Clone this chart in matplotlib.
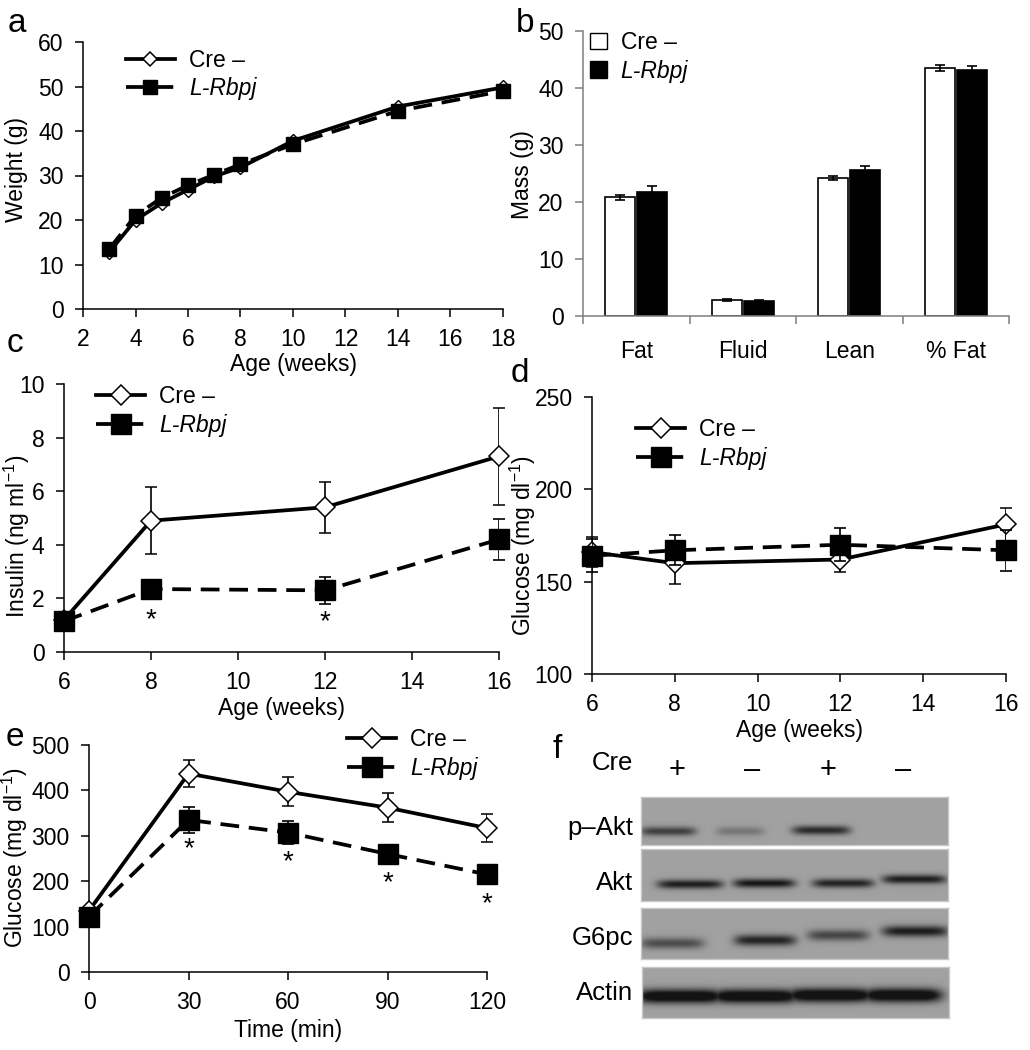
import numpy as np
import matplotlib
matplotlib.use("Agg")
import matplotlib.pyplot as plt
from matplotlib.lines import Line2D
from matplotlib.patches import Patch

plt.rcParams['font.family'] = ['Liberation Sans', 'DejaVu Sans']
plt.rcParams['mathtext.fontset'] = 'custom'
plt.rcParams['mathtext.rm'] = 'Liberation Sans'
plt.rcParams['mathtext.it'] = 'Liberation Sans:italic'

W, H = 1030, 1050

# ---- data ----
# a: body weight
weight_age = [3, 4, 5, 6, 7, 8, 10, 14, 18]
weight_cre = [12.8, 20.0, 23.8, 26.8, 29.8, 31.8, 37.8, 45.5, 49.8]
weight_rbpj = [13.5, 21.0, 25.0, 27.8, 30.2, 32.5, 37.0, 44.5, 49.0]

# b: body composition
mass_cats = ['Fat', 'Fluid', 'Lean', '% Fat']
mass_cre = [20.8, 2.8, 24.2, 43.5]
mass_cre_err = [0.5, 0.1, 0.3, 0.5]
mass_rbpj = [21.7, 2.7, 25.6, 43.2]
mass_rbpj_err = [1.1, 0.1, 0.8, 0.7]

# c: insulin
ins_age = [6, 8, 12, 16]
ins_cre = [1.2, 4.9, 5.4, 7.3]
ins_cre_err = [0.2, 1.25, 0.95, 1.8]
ins_rbpj = [1.15, 2.35, 2.3, 4.2]
ins_rbpj_err = [0.2, 0.3, 0.5, 0.75]
ins_sig = [8, 12]

# d: fasting glucose
glu_age = [6, 8, 12, 16]
glu_cre = [166, 160, 162, 181]
glu_cre_err = [8, 11, 7, 9]
glu_rbpj = [164, 167, 170, 167]
glu_rbpj_err = [9, 8, 9, 11]

# e: GTT
gtt_time = [0, 30, 60, 90, 120]
gtt_cre = [135, 437, 397, 362, 317]
gtt_cre_err = [5, 30, 32, 32, 30]
gtt_rbpj = [122, 335, 307, 260, 215]
gtt_rbpj_err = [5, 28, 25, 15, 10]
gtt_sig = [30, 60, 90, 120]

# f: western blot (relative band intensity per lane)
blot_lanes = ['+', '\u2013', '+', '\u2013']
blot_rows = ['p\u2013Akt', 'Akt', 'G6pc', 'Actin']
band_pakt = [0.7, 0.3, 0.85, 0.0]
band_akt = [0.95, 1.0, 0.9, 0.95]
band_g6pc = [0.6, 0.9, 0.65, 0.95]
band_actin = [1.3, 1.3, 1.3, 1.3]

FS_TICK = 16.5
FS_LAB = 16.5
LW = 2.7
DASH = (0, (5, 2.6))

# ---- helpers ----
fig = plt.figure(figsize=(W / 100, H / 100), dpi=100)


def px_axes(l, t, r, b):
    return fig.add_axes([l / W, 1 - b / H, (r - l) / W, (b - t) / H])


def style(ax, col='black'):
    for s in ['top', 'right']:
        ax.spines[s].set_visible(False)
    for s in ['left', 'bottom']:
        ax.spines[s].set_linewidth(1.1)
        ax.spines[s].set_color(col)
    ax.tick_params(direction='out', length=6, width=1.1, labelsize=FS_TICK, color=col)
    ax.tick_params(axis='x', pad=8)
    ax.tick_params(axis='y', pad=8)


def fig_label(x, y, s, rot=0, size=FS_LAB):
    fig.text(x / W, 1 - y / H, s, fontsize=size, ha='center', va='center', rotation=rot)


def legend_lines(ax, x, y, ms_d=10, ms_s=11):
    h1 = Line2D([], [], color='black', lw=LW, marker='D', ms=ms_d * 0.75,
                mfc='white', mec='black', mew=1.1)
    h2 = Line2D([], [], color='black', lw=LW, ls=DASH, marker='s',
                ms=ms_s, mfc='black', mec='black')
    lg = ax.legend([h1, h2], ['Cre \u2013', 'L-Rbpj'], loc='upper left',
                   bbox_to_anchor=(x, y), frameon=False, fontsize=16.5,
                   handlelength=2.15, handletextpad=0.6, labelspacing=0.25,
                   borderpad=0, borderaxespad=0)
    lg.get_texts()[1].set_fontstyle('italic')
    return lg


def two_series(ax, x, y1, e1, y2, e2, ms_d, ms_s):
    ax.errorbar(x, y1, yerr=e1, color='black', lw=LW, ecolor='black',
                elinewidth=1.2, capsize=4, capthick=1.2, marker='D',
                ms=ms_d * 0.75, mfc='white', mec='black', mew=1.1, zorder=3)
    ax.errorbar(x, y2, yerr=e2, color='black', lw=LW, ls=DASH,
                ecolor='black', elinewidth=1.2, capsize=4, capthick=1.2,
                marker='s', ms=ms_s, mfc='black', mec='black', zorder=4)
    for ln in ax.lines:
        ln.set_clip_on(False)


def stars(ax, xs, xvals, ys, drop):
    # glyph centre placed at value - drop
    for x in xs:
        k = list(xvals).index(x)
        ax.annotate('*', (x, ys[k] - drop), xytext=(0, -0.42 * 20),
                    textcoords='offset points', fontsize=20,
                    ha='center', va='baseline')


def letter(x, y, s):
    fig.text(x / W, 1 - y / H, s, fontsize=24, ha='center', va='center')


# ---- a ----
ax = px_axes(83, 42, 503, 309)
style(ax)
ax.plot(weight_age, weight_cre, color='black', lw=LW, marker='D', ms=7.5,
        mfc='white', mec='black', mew=1.0, zorder=3, clip_on=False)
ax.plot(weight_age, weight_rbpj, color='black', lw=LW, ls=DASH,
        marker='s', ms=10, mfc='black', mec='black', zorder=4, clip_on=False)
ax.set_xlim(2, 18)
ax.set_ylim(0, 60)
ax.set_xticks(range(2, 19, 2))
ax.set_yticks(range(0, 61, 10))
fig_label(293, 364, 'Age (weeks)')
fig_label(17, 170, 'Weight (g)', rot=90)
legend_lines(ax, 0.102, 0.975, ms_d=10, ms_s=10)
letter(17, 24, 'a')

# ---- b ----
ax = px_axes(583, 31, 1009, 316)
style(ax, col='#7f7f7f')
xi = np.arange(len(mass_cats))
ekw = dict(ecolor='black', elinewidth=1.2, capsize=3.5, capthick=1.2)
ax.bar(xi - 0.15, mass_cre, width=0.28, color='white', edgecolor='black',
       lw=1.2, yerr=mass_cre_err, error_kw=ekw)
ax.bar(xi + 0.15, mass_rbpj, width=0.28, color='black', edgecolor='black',
       lw=1.2, yerr=mass_rbpj_err, error_kw=ekw)
ax.set_xlim(-0.5, 3.5)
ax.set_ylim(0, 50)
ax.set_yticks(range(0, 51, 10))
ax.set_xticks(xi)
ax.set_xticklabels(mass_cats, fontsize=FS_TICK)
ax.set_xticks(np.arange(-0.5, 4, 1), minor=True)
ax.tick_params(axis='x', which='major', length=0, pad=17)
ax.tick_params(axis='x', which='minor', length=6, width=1.1, color='#7f7f7f')
fig_label(522, 175, 'Mass (g)', rot=90)
lg = ax.legend([Patch(fc='white', ec='black', lw=1.0), Patch(fc='black', ec='black')],
               ['Cre \u2013', 'L-Rbpj'], loc='upper left', bbox_to_anchor=(0.016, 1.0),
               frameon=False, fontsize=16.5, handlelength=0.75, handleheight=0.75,
               handletextpad=0.6, labelspacing=0.25, borderpad=0, borderaxespad=0)
lg.get_texts()[1].set_fontstyle('italic')
letter(525, 24, 'b')

# ---- c ----
ax = px_axes(64, 384, 499, 652)
style(ax)
two_series(ax, ins_age, ins_cre, ins_cre_err, ins_rbpj, ins_rbpj_err, 14, 15)
stars(ax, ins_sig, ins_age, ins_rbpj, 1.0)
ax.set_xlim(6, 16)
ax.set_ylim(0, 10)
ax.set_xticks(range(6, 17, 2))
ax.set_yticks(range(0, 11, 2))
fig_label(281, 708, 'Age (weeks)')
fig_label(17, 536, 'Insulin (ng ml$^{\\mathregular{-1}}$)', rot=90)
legend_lines(ax, 0.074, 0.995, ms_d=14, ms_s=15)
letter(15, 343, 'c')

# ---- d ----
ax = px_axes(592, 397, 1006, 674)
style(ax)
two_series(ax, glu_age, glu_cre, glu_cre_err, glu_rbpj, glu_rbpj_err, 13, 14)
ax.set_xlim(6, 16)
ax.set_ylim(100, 250)
ax.set_xticks(range(6, 17, 2))
ax.set_yticks(range(100, 251, 50))
fig_label(799, 731, 'Age (weeks)')
fig_label(523, 545, 'Glucose (mg dl$^{\\mathregular{-1}}$)', rot=90)
legend_lines(ax, 0.106, 0.924, ms_d=13, ms_s=14)
letter(520, 373, 'd')

# ---- e ----
ax = px_axes(89, 745, 487, 972)
style(ax)
two_series(ax, gtt_time, gtt_cre, gtt_cre_err, gtt_rbpj, gtt_rbpj_err, 14, 15)
stars(ax, gtt_sig, gtt_time, gtt_rbpj, 55)
ax.set_xlim(0, 120)
ax.set_ylim(0, 500)
ax.set_xticks(range(0, 121, 30))
ax.set_yticks(range(0, 501, 100))
fig_label(288, 1030, 'Time (min)')
fig_label(15, 857, 'Glucose (mg dl$^{\\mathregular{-1}}$)', rot=90)
legend_lines(ax, 0.648, 1.075, ms_d=14, ms_s=15)
letter(15, 738, 'e')

# ---- f ----
bg, dark = 0.63, 0.08
strips = [
    # (l, t, r, b, centers, half widths, band y, sigma, intensity)
    (641, 797, 948, 845, [668, 740, 821, 900], [28, 24, 29, 28], [831, 831, 830, 830], 4.5, band_pakt),
    (641, 849, 948, 901, [690, 764, 843, 914], [33, 31, 31, 32], [884, 883, 883, 879], 4.5, band_akt),
    (641, 908, 948, 959, [672, 765, 838, 915], [32, 31, 31, 33], [943, 940, 935, 931], 5.5, band_g6pc),
    (642, 967, 949, 1018, [680, 755, 830, 902], [44, 44, 44, 40], [996, 996, 995, 995], 7.0, band_actin),
]
label_y = [828, 883, 938, 993]
for (l, t, r, b, cs, hws, bys, sg, inten), name, ly in zip(strips, blot_rows, label_y):
    xs = np.arange(l, r, 0.5)
    ys = np.arange(t, b, 0.5)
    X, Y = np.meshgrid(xs, ys)
    img = np.zeros_like(X)
    for c, hw, by, a in zip(cs, hws, bys, inten):
        prof = a * np.exp(-((X - c) / hw) ** 6) * np.exp(-((Y - by) / sg) ** 2)
        img = np.maximum(img, prof)
    gray = bg - (bg - dark) * np.clip(img, 0, 1)
    bax = px_axes(l, t, r, b)
    bax.imshow(gray, cmap='gray', vmin=0, vmax=1, extent=(l, r, b, t),
               aspect='auto', interpolation='bilinear')
    bax.set_xticks([])
    bax.set_yticks([])
    for s in bax.spines.values():
        s.set_color('#c8c8c8')
        s.set_linewidth(1.0)
    fig.text(633 / W, 1 - ly / H, name, fontsize=18.5, ha='right', va='center')

fig.text(633 / W, 1 - 763 / H, 'Cre', fontsize=18.5, ha='right', va='center')
for lx, s in zip([677, 752, 828, 903], blot_lanes):
    fig.text(lx / W, 1 - 770 / H, s, fontsize=21, ha='center', va='center')
letter(557, 750, 'f')

fig.savefig('out.png', dpi=100, facecolor='white')
